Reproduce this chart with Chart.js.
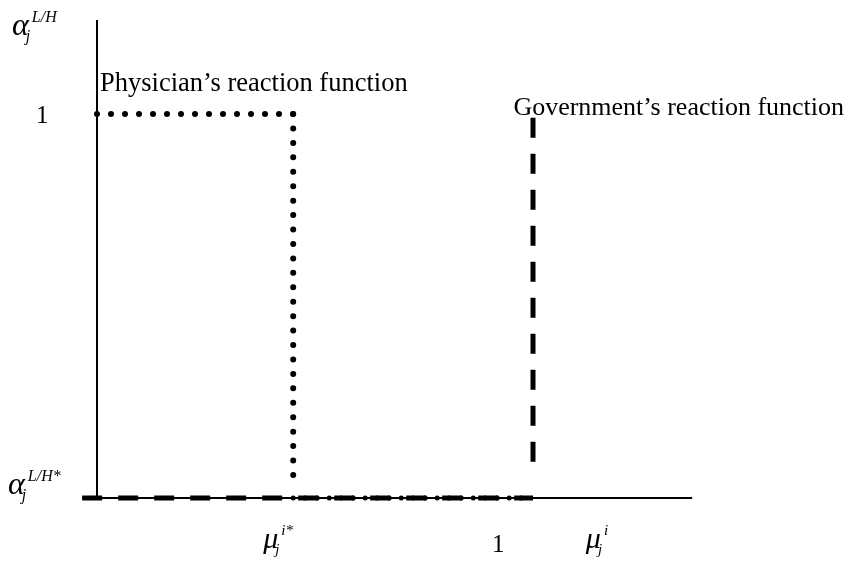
<!DOCTYPE html>
<html>
<head>
<meta charset="utf-8">
<script src="https://cdn.jsdelivr.net/npm/chart.js@4"></script>
<style>
  html, body { margin: 0; padding: 0; background: #fff; }
  #wrap { width: 855px; height: 566px; }
</style>
</head>
<body>
<div id="wrap"><canvas id="reaction-chart"></canvas></div>
<script>
// Reaction functions in (mu, alpha) space
const muStar = 0.45;
const physicianX = [0, muStar, muStar];
const physicianY = [1, 1, 0.055];
const physicianBaseX = [muStar, 1];
const governmentX = [1, 1];
const governmentY = [0.99, 0.07];
const governmentBaseX = [-0.034, 1];

// Axes
const axisX = [-0.034, 1.365];
const axisYTop = 1.245;

// Tick labels: [value, main symbol, subscript, superscript]
const xTickLabels = [[muStar, 'μ', 'j', 'i*'], [1, '1', '', ''], [1.19, 'μ', 'j', 'i']];
const yTickLabels = [[1, '1', '', ''], [0, 'α', 'j', 'L/H*']];
const yAxisTitle = ['α', 'j', 'L/H'];

const curveLabels = [
    { text: 'Physician’s reaction function', x: 0.007, y: 1.06, size: 26.5 },
    { text: 'Government’s reaction function', x: 0.955, y: 0.997, size: 26 }
];

function pts(xs, ys) {
    return xs.map((x, i) => ({ x: x, y: Array.isArray(ys) ? ys[i] : ys }));
}

const SERIF = '"Liberation Serif", "DejaVu Serif", serif';

function drawSymbol(ctx, x, y, main, sub, sup, size) {
    // x, y: left edge and baseline of the main glyph
    ctx.font = 'italic ' + size + 'px ' + SERIF;
    ctx.fillText(main, x, y);
    const w = ctx.measureText(main).width;
    const small = Math.round(size * 0.5);
    ctx.font = 'italic ' + small + 'px ' + SERIF;
    if (sub) ctx.fillText(sub, x + w - 3, y + small * 0.4);
    if (sup) ctx.fillText(sup, x + w + 3, y - size * 0.42);
}

const labelPlugin = {
    id: 'reactionLabels',
    afterDatasetsDraw(chart) {
        const ctx = chart.ctx;
        const xs = chart.scales.x;
        const ys = chart.scales.y;
        const x0 = xs.getPixelForValue(0);
        const yBase = ys.getPixelForValue(0);
        ctx.save();
        ctx.fillStyle = '#000';
        ctx.textBaseline = 'alphabetic';
        ctx.textAlign = 'left';

        // axis title at the top of the vertical axis
        drawSymbol(ctx, 12, 35, yAxisTitle[0], yAxisTitle[1], yAxisTitle[2], 32);

        // vertical axis labels
        yTickLabels.forEach(([v, main, sub, sup]) => {
            const py = ys.getPixelForValue(v);
            if (main === '1') {
                ctx.font = '25px ' + SERIF;
                ctx.fillText(main, x0 - 61, py + 9);
            } else {
                drawSymbol(ctx, 8, py - 4, main, sub, sup, 32);
            }
        });

        // horizontal axis labels
        xTickLabels.forEach(([v, main, sub, sup]) => {
            const px = xs.getPixelForValue(v);
            if (main === '1') {
                ctx.font = '25px ' + SERIF;
                ctx.fillText(main, px - 41, yBase + 54);
            } else {
                drawSymbol(ctx, px - 30, yBase + 50, main, sub, sup, 30);
            }
        });

        // curve names
        curveLabels.forEach(l => {
            ctx.font = l.size + 'px ' + SERIF;
            ctx.fillText(l.text, xs.getPixelForValue(l.x), ys.getPixelForValue(l.y));
        });
        ctx.restore();
    }
};

const lineStyle = { showLine: true, pointRadius: 0, tension: 0, fill: false, borderColor: '#000' };
const dotted = Object.assign({}, lineStyle, { borderWidth: 6, borderDash: [0, 14], borderCapStyle: 'round' });
const dashed = Object.assign({}, lineStyle, { borderWidth: 5, borderDash: [20, 16], borderCapStyle: 'butt' });

new Chart(document.getElementById('reaction-chart'), {
    type: 'scatter',
    data: {
        datasets: [
            Object.assign({}, lineStyle, { label: 'x axis', data: pts(axisX, 0), borderWidth: 2 }),
            Object.assign({}, lineStyle, { label: 'y axis', data: pts([0, 0], [0, axisYTop]), borderWidth: 2 }),
            Object.assign({}, dashed, { label: 'Government base', data: pts(governmentBaseX, 0) }),
            Object.assign({}, dashed, { label: 'Government', data: pts(governmentX, governmentY) }),
            // physician: horizontal run at alpha = 1, then the drop at mu*
            Object.assign({}, dotted, { label: 'Physician', data: pts(physicianX.slice(0, 2), physicianY.slice(0, 2)) }),
            Object.assign({}, dotted, { label: 'Physician drop', data: pts(physicianX.slice(1), physicianY.slice(1)), borderDash: [0, 14.44] }),
            Object.assign({}, dotted, { label: 'Physician base', data: pts(physicianBaseX, 0), borderWidth: 5, borderDash: [0, 12] })
        ]
    },
    options: {
        responsive: true,
        maintainAspectRatio: false,
        animation: false,
        layout: { padding: 0 },
        plugins: { legend: { display: false }, tooltip: { enabled: false } },
        scales: {
            x: { type: 'linear', display: false, min: -97 / 436, max: 758 / 436 },
            y: { type: 'linear', display: false, min: -68 / 384, max: 498 / 384 }
        }
    },
    plugins: [labelPlugin]
});
</script>
</body>
</html>
